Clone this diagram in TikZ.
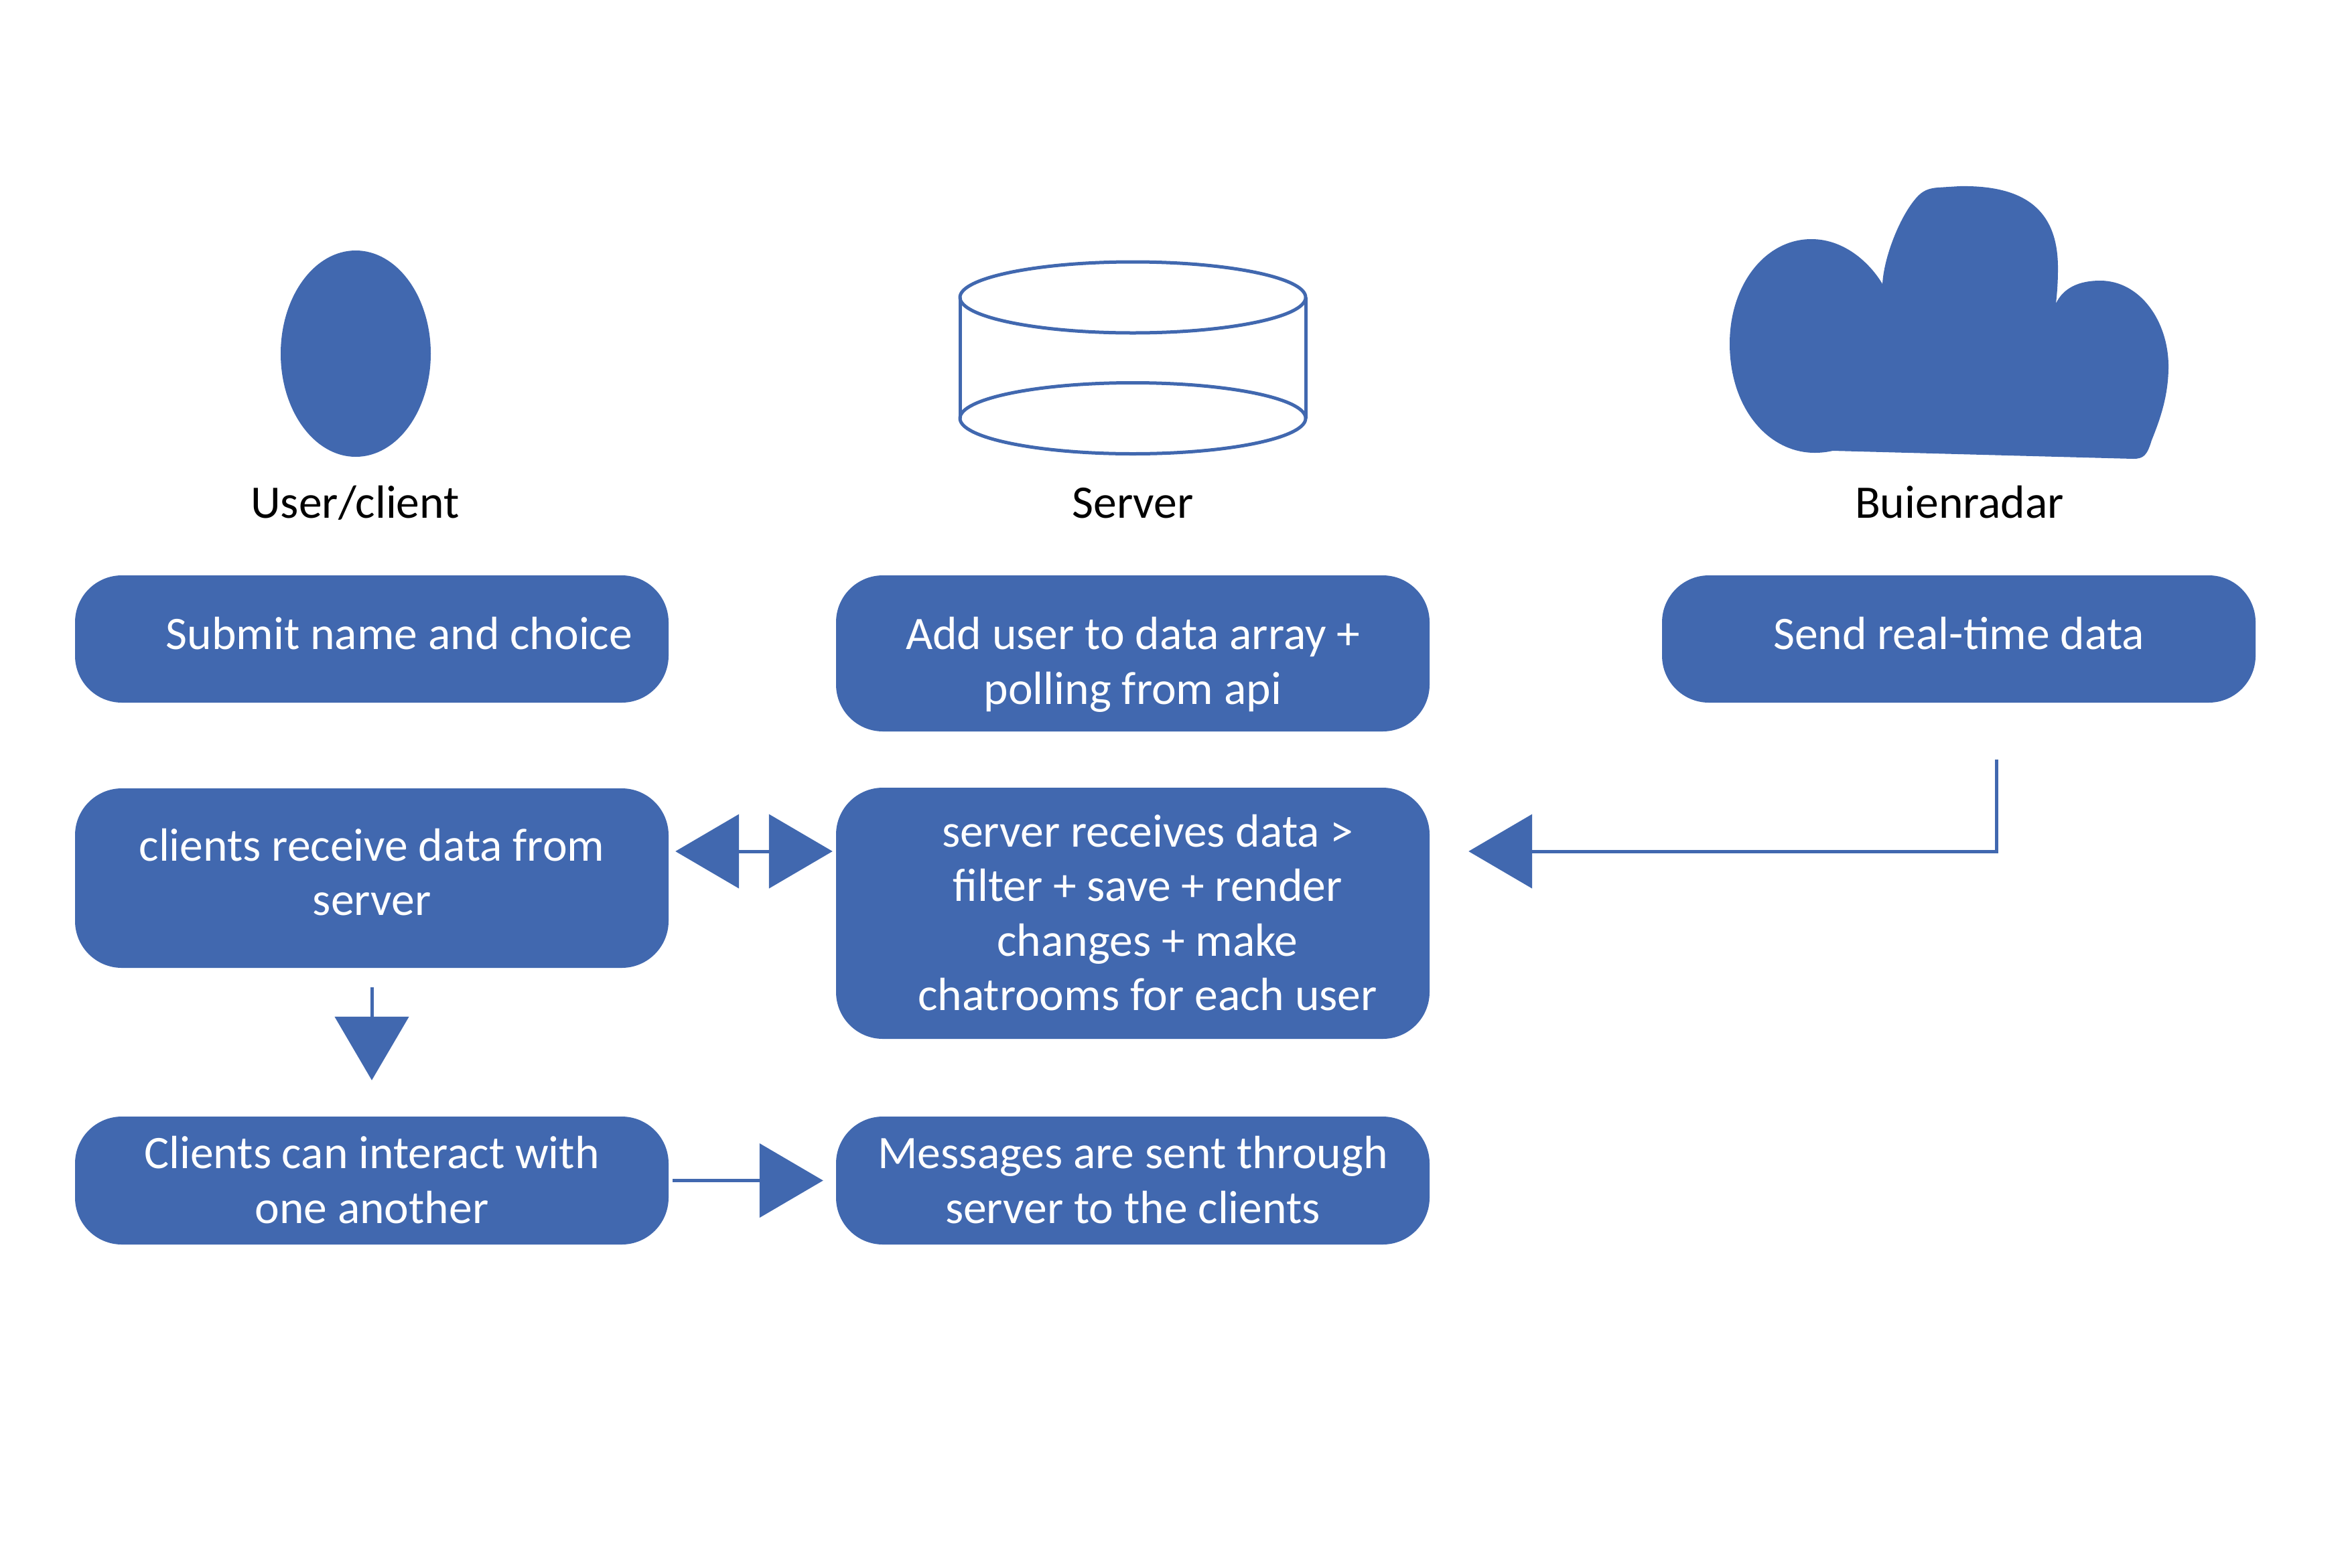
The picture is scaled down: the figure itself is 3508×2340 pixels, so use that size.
\documentclass[tikz,border=0pt]{standalone}
\usepackage{fontspec}
\setmainfont{Carlito}
\usetikzlibrary{arrows.meta}
\definecolor{flow}{HTML}{4168AF}
\newcommand{\boxtext}[3]{\hspace*{#1}\raisebox{#2}[0pt][0pt]{\begin{tabular}{@{}c@{}}#3\end{tabular}}}
\tikzset{
  flowbox/.style={draw=none,fill=flow,rounded corners=70pt,text=white,minimum width=886pt,inner sep=0pt,
    font=\fontsize{69.6}{81.5}\selectfont,anchor=center},
  title/.style={text=black,inner sep=0pt,font=\fontsize{69.6}{81.5}\selectfont,anchor=base},
  flowline/.style={draw=flow,line width=5pt},
  flowarrow/.style={flowline,-{Triangle[length=95pt,width=110pt,fill=flow]}},
  bothways/.style={flowline,{Triangle[length=95pt,width=110pt,fill=flow]}-{Triangle[length=95pt,width=110pt,fill=flow]}},
}
\begin{document}
\begin{tikzpicture}[x=1pt,y=-1pt]
\useasboundingbox (0,0) rectangle (3508,2340);
% icons
\fill[flow] (531,528) ellipse [x radius=112,y radius=154];
\draw[flowline] (1433,444) -- (1433,624.5);
\draw[flowline] (1949,444) -- (1949,624.5);
\draw[flowline] (1691,444) ellipse [x radius=258,y radius=53];
\draw[flowline] (1691,624.5) ellipse [x radius=258,y radius=53];
\fill[flow] (2736,673) .. controls (2727,675) and (2718,676) .. (2709,676)
  .. controls (2640,676) and (2582,610) .. (2582,513)
  .. controls (2582,425) and (2635,357) .. (2704,357)
  .. controls (2755,357) and (2793,395) .. (2810,424)
  .. controls (2812,385) and (2835,325) .. (2860,296)
  .. controls (2870,284) and (2880,281) .. (2893,280)
  -- (2925,278)
  .. controls (3030,276) and (3072,320) .. (3072,400)
  .. controls (3072,420) and (3071,435) .. (3069,453)
  .. controls (3080,430) and (3103,419) .. (3135,419)
  .. controls (3195,419) and (3237,480) .. (3237,547)
  .. controls (3237,590) and (3225,625) .. (3212,657)
  .. controls (3205,680) and (3200,685) .. (3184,685) -- cycle;
% titles
\node[title] (tuser) at (530,773) {User/client};
\node[title] (tserver) at (1691,773) {Server};
\node[title] (tbuien) at (2925,773) {Buienradar};
% boxes
\node[flowbox,minimum height=190pt] (submit) at (555,954) {\boxtext{82pt}{-5pt}{Submit name and choice}};
\node[flowbox,minimum height=233pt] (adduser) at (1691,975.5) {\boxtext{0pt}{-25pt}{Add user to data array +\\polling from api}};
\node[flowbox,minimum height=190pt] (send) at (2924,954) {\boxtext{0pt}{-5pt}{Send real-time data}};
\node[flowbox,minimum height=268pt] (receive) at (555,1311) {\boxtext{0pt}{-5pt}{clients receive data from\\server}};
\node[flowbox,minimum height=375pt] (process) at (1691,1363.5) {\boxtext{44pt}{-13pt}{server receives data >\\filter + save + render\\changes + make\\chatrooms for each user}};
\node[flowbox,minimum height=191pt] (interact) at (555,1762.5) {\boxtext{0pt}{-13pt}{Clients can interact with\\one another}};
\node[flowbox,minimum height=191pt] (messages) at (1691,1762.5) {\boxtext{0pt}{-13pt}{Messages are sent through\\server to the clients}};
% connectors
\draw[bothways] ([shift={(10pt,40pt)}]receive.east) -- ([shift={(-5pt,92.5pt)}]process.west);
\draw[flowarrow] ([shift={(56pt,-85pt)}]send.south) |- ([shift={(58pt,92.5pt)}]process.east);
\draw[flowarrow] ([yshift=-29pt]receive.south) -- ([yshift=54pt]interact.north);
\draw[flowarrow] ([xshift=6pt]interact.east) -- ([xshift=-19pt]messages.west);
\end{tikzpicture}
\end{document}
